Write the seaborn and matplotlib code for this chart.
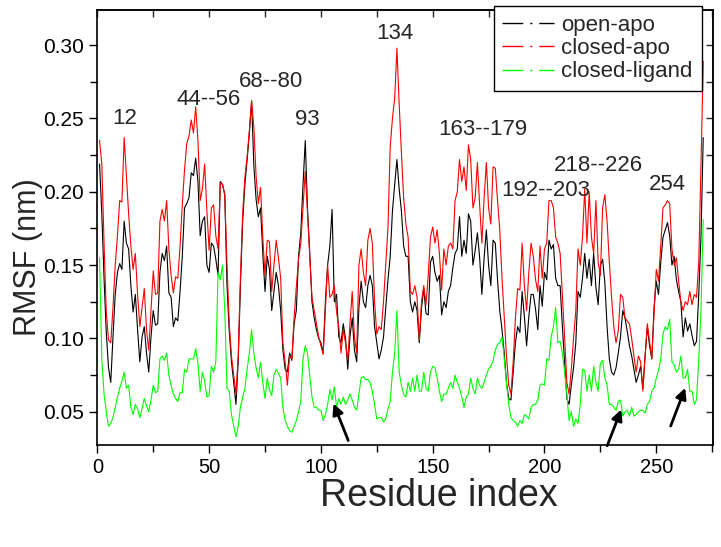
import numpy as np
import pandas as pd
import seaborn as sns
import matplotlib.pyplot as plt
from matplotlib.lines import Line2D
from matplotlib.ticker import MultipleLocator

# RMSF per residue (nm)
residues = list(range(1, 272))

open_apo = [
    0.219, 0.185, 0.141, 0.104, 0.080, 0.070, 0.101, 0.130, 0.145, 0.151,
    0.147, 0.180, 0.165, 0.161, 0.136, 0.118, 0.130, 0.106, 0.084, 0.101,
    0.108, 0.090, 0.077, 0.101, 0.119, 0.109, 0.110, 0.145, 0.158, 0.153,
    0.163, 0.131, 0.128, 0.108, 0.114, 0.112, 0.132, 0.156, 0.189, 0.192,
    0.196, 0.213, 0.211, 0.223, 0.207, 0.170, 0.180, 0.183, 0.150, 0.145,
    0.165, 0.163, 0.154, 0.143, 0.207, 0.205, 0.198, 0.136, 0.105, 0.084,
    0.070, 0.055, 0.084, 0.136, 0.180, 0.205, 0.222, 0.240, 0.262, 0.218,
    0.195, 0.183, 0.189, 0.158, 0.132, 0.156, 0.147, 0.119, 0.132, 0.145,
    0.136, 0.119, 0.092, 0.079, 0.077, 0.090, 0.085, 0.110, 0.119, 0.156,
    0.172, 0.205, 0.235, 0.189, 0.158, 0.125, 0.114, 0.106, 0.100, 0.097,
    0.090, 0.125, 0.150, 0.163, 0.188, 0.125, 0.130, 0.101, 0.097, 0.110,
    0.100, 0.079, 0.101, 0.114, 0.092, 0.084, 0.121, 0.139, 0.125, 0.121,
    0.136, 0.143, 0.136, 0.108, 0.097, 0.086, 0.092, 0.101, 0.121, 0.140,
    0.156, 0.187, 0.205, 0.222, 0.202, 0.187, 0.163, 0.156, 0.156, 0.125,
    0.118, 0.125, 0.119, 0.097, 0.121, 0.134, 0.117, 0.116, 0.152, 0.156,
    0.145, 0.139, 0.143, 0.116, 0.125, 0.121, 0.132, 0.136, 0.148, 0.158,
    0.161, 0.183, 0.156, 0.167, 0.158, 0.185, 0.180, 0.150, 0.160, 0.172,
    0.155, 0.130, 0.155, 0.174, 0.150, 0.136, 0.167, 0.165, 0.140, 0.119,
    0.106, 0.090, 0.070, 0.059, 0.058, 0.077, 0.097, 0.108, 0.104, 0.132,
    0.115, 0.095, 0.115, 0.130, 0.130, 0.120, 0.106, 0.136, 0.122, 0.145,
    0.140, 0.167, 0.161, 0.164, 0.141, 0.136, 0.136, 0.108, 0.084, 0.059,
    0.055, 0.068, 0.080, 0.097, 0.132, 0.128, 0.141, 0.158, 0.141, 0.154,
    0.136, 0.158, 0.135, 0.123, 0.150, 0.154, 0.138, 0.108, 0.086, 0.077,
    0.075, 0.080, 0.090, 0.101, 0.119, 0.114, 0.105, 0.095, 0.088, 0.079,
    0.070, 0.075, 0.081, 0.066, 0.088, 0.108, 0.095, 0.086, 0.121, 0.139,
    0.130, 0.152, 0.169, 0.174, 0.179, 0.170, 0.150, 0.156, 0.140, 0.132,
    0.125, 0.101, 0.114, 0.105, 0.110, 0.102, 0.095, 0.098, 0.130, 0.170,
    0.237,
]

closed_apo = [
    0.235, 0.219, 0.165, 0.118, 0.099, 0.097, 0.121, 0.150, 0.170, 0.194,
    0.193, 0.237, 0.211, 0.185, 0.163, 0.147, 0.158, 0.130, 0.108, 0.121,
    0.134, 0.106, 0.092, 0.119, 0.146, 0.130, 0.131, 0.180, 0.188, 0.180,
    0.194, 0.161, 0.143, 0.131, 0.142, 0.141, 0.163, 0.191, 0.215, 0.233,
    0.238, 0.249, 0.240, 0.258, 0.235, 0.194, 0.202, 0.219, 0.187, 0.160,
    0.189, 0.191, 0.170, 0.161, 0.206, 0.205, 0.198, 0.150, 0.110, 0.088,
    0.075, 0.062, 0.088, 0.141, 0.185, 0.210, 0.224, 0.242, 0.262, 0.244,
    0.211, 0.192, 0.203, 0.169, 0.143, 0.167, 0.166, 0.132, 0.150, 0.167,
    0.155, 0.141, 0.097, 0.084, 0.068, 0.088, 0.086, 0.114, 0.135, 0.154,
    0.165, 0.190, 0.214, 0.185, 0.156, 0.128, 0.119, 0.110, 0.101, 0.095,
    0.089, 0.119, 0.150, 0.128, 0.130, 0.136, 0.118, 0.108, 0.090, 0.106,
    0.097, 0.085, 0.110, 0.132, 0.101, 0.090, 0.150, 0.161, 0.145, 0.136,
    0.167, 0.175, 0.165, 0.125, 0.103, 0.108, 0.106, 0.125, 0.150, 0.176,
    0.231, 0.250, 0.264, 0.298, 0.260, 0.227, 0.196, 0.178, 0.169, 0.132,
    0.130, 0.136, 0.128, 0.099, 0.125, 0.136, 0.123, 0.143, 0.169, 0.176,
    0.165, 0.174, 0.158, 0.133, 0.161, 0.150, 0.163, 0.165, 0.161, 0.194,
    0.200, 0.222, 0.207, 0.217, 0.201, 0.232, 0.222, 0.189, 0.196, 0.220,
    0.191, 0.165, 0.196, 0.220, 0.189, 0.178, 0.217, 0.216, 0.194, 0.174,
    0.141, 0.114, 0.088, 0.068, 0.062, 0.084, 0.114, 0.134, 0.133, 0.165,
    0.136, 0.119, 0.145, 0.165, 0.156, 0.140, 0.132, 0.163, 0.141, 0.161,
    0.165, 0.194, 0.194, 0.189, 0.169, 0.165, 0.158, 0.130, 0.101, 0.070,
    0.062, 0.079, 0.100, 0.119, 0.161, 0.150, 0.169, 0.202, 0.165, 0.200,
    0.169, 0.158, 0.194, 0.152, 0.143, 0.189, 0.198, 0.180, 0.152, 0.128,
    0.108, 0.097, 0.105, 0.130, 0.128, 0.114, 0.112, 0.110, 0.100, 0.088,
    0.077, 0.088, 0.084, 0.064, 0.088, 0.110, 0.098, 0.086, 0.117, 0.147,
    0.139, 0.163, 0.189, 0.191, 0.194, 0.192, 0.161, 0.150, 0.155, 0.139,
    0.125, 0.119, 0.125, 0.123, 0.132, 0.123, 0.130, 0.128, 0.152, 0.218,
    0.289,
]

closed_ligand = [
    0.155, 0.086, 0.062, 0.050, 0.040, 0.042, 0.046, 0.053, 0.060, 0.066,
    0.071, 0.077, 0.066, 0.068, 0.053, 0.048, 0.055, 0.052, 0.046, 0.052,
    0.059, 0.054, 0.050, 0.058, 0.068, 0.063, 0.064, 0.086, 0.088, 0.085,
    0.090, 0.075, 0.068, 0.062, 0.059, 0.057, 0.063, 0.063, 0.079, 0.077,
    0.086, 0.086, 0.086, 0.093, 0.083, 0.064, 0.077, 0.071, 0.060, 0.061,
    0.081, 0.077, 0.084, 0.145, 0.140, 0.150, 0.119, 0.066, 0.064, 0.048,
    0.040, 0.033, 0.040, 0.053, 0.060, 0.066, 0.079, 0.090, 0.106, 0.090,
    0.080, 0.073, 0.084, 0.070, 0.059, 0.073, 0.065, 0.061, 0.075, 0.079,
    0.076, 0.073, 0.053, 0.044, 0.040, 0.037, 0.036, 0.040, 0.044, 0.050,
    0.057, 0.086, 0.095, 0.090, 0.075, 0.060, 0.053, 0.053, 0.051, 0.051,
    0.044, 0.048, 0.055, 0.065, 0.058, 0.067, 0.053, 0.059, 0.055, 0.060,
    0.055, 0.058, 0.062, 0.058, 0.053, 0.051, 0.062, 0.073, 0.074, 0.072,
    0.072, 0.070, 0.064, 0.055, 0.045, 0.046, 0.046, 0.043, 0.045, 0.052,
    0.057, 0.077, 0.090, 0.119, 0.077, 0.068, 0.062, 0.060, 0.070, 0.064,
    0.073, 0.064, 0.075, 0.064, 0.064, 0.077, 0.066, 0.064, 0.077, 0.081,
    0.080, 0.073, 0.064, 0.057, 0.062, 0.062, 0.066, 0.070, 0.066, 0.075,
    0.070, 0.066, 0.060, 0.053, 0.060, 0.062, 0.073, 0.066, 0.062, 0.073,
    0.068, 0.066, 0.070, 0.075, 0.079, 0.081, 0.085, 0.092, 0.096, 0.097,
    0.101, 0.086, 0.070, 0.055, 0.046, 0.044, 0.043, 0.040, 0.044, 0.042,
    0.048, 0.047, 0.045, 0.053, 0.055, 0.055, 0.058, 0.068, 0.069, 0.068,
    0.086, 0.085, 0.101, 0.108, 0.121, 0.097, 0.098, 0.090, 0.077, 0.062,
    0.044, 0.050, 0.040, 0.045, 0.042, 0.055, 0.079, 0.078, 0.064, 0.075,
    0.064, 0.081, 0.070, 0.064, 0.083, 0.085, 0.073, 0.068, 0.055, 0.055,
    0.053, 0.051, 0.057, 0.058, 0.047, 0.050, 0.051, 0.047, 0.053, 0.047,
    0.048, 0.050, 0.051, 0.051, 0.049, 0.055, 0.057, 0.064, 0.066, 0.073,
    0.078, 0.086, 0.103, 0.108, 0.106, 0.113, 0.084, 0.082, 0.077, 0.079,
    0.088, 0.073, 0.073, 0.079, 0.064, 0.064, 0.055, 0.058, 0.086, 0.120,
    0.181,
]

series_names = ['open-apo', 'closed-apo', 'closed-ligand']
series_colors = ['#000000', '#ff0000', '#00ff00']

# peak labels: text, x, y
peak_labels = ['12', '44--56', '68--80', '93', '134', '163--179', '192--203', '218--226', '254']
peak_x = [12.4, 49.9, 77.8, 93.8, 133.2, 172.4, 200.7, 224.3, 255.2]
peak_y = [0.250, 0.263, 0.275, 0.249, 0.308, 0.2426, 0.2007, 0.218, 0.205]

# arrows: head (x, y), tail (x, y)
arrow_head = [(105.2, 0.0573), (234.8, 0.0533), (263.4, 0.068)]
arrow_tail = [(112.7, 0.0286), (227.6, 0.0250), (256.0, 0.0385)]

df = pd.DataFrame({
    'residue': residues * 3,
    'rmsf': open_apo + closed_apo + closed_ligand,
    'system': [n for n in series_names for _ in residues],
})

sns.set_style('ticks')
plt.rcParams['font.family'] = ['Liberation Sans', 'DejaVu Sans']

fig = plt.figure(figsize=(7.21, 5.47), dpi=100)
ax = fig.add_axes([0.135, 0.1865, 0.8543, 0.7952])

sns.lineplot(data=df, x='residue', y='rmsf', hue='system', hue_order=series_names,
             palette=dict(zip(series_names, series_colors)), estimator=None,
             linewidth=0.8, legend=False, ax=ax)

ax.set_xlim(0, 275.5)
ax.set_ylim(0.0273, 0.324)
ax.xaxis.set_major_locator(MultipleLocator(50))
ax.xaxis.set_minor_locator(MultipleLocator(25))
ax.yaxis.set_major_locator(MultipleLocator(0.05))
ax.yaxis.set_minor_locator(MultipleLocator(0.025))
ax.yaxis.set_major_formatter(plt.FormatStrFormatter('%.2f'))
ax.tick_params(which='both', direction='out', width=1.0, colors='k')
ax.tick_params(axis='y', labelsize=15)
ax.tick_params(axis='x', labelsize=14.5)
ax.tick_params(which='major', length=6)
ax.tick_params(which='minor', length=5)
for s in ax.spines.values():
    s.set_color('k')
    s.set_linewidth(1.2)

# mirrored ticks pointing inward on top and right
top = ax.secondary_xaxis('top')
top.xaxis.set_major_locator(MultipleLocator(50))
top.xaxis.set_minor_locator(MultipleLocator(25))
top.tick_params(which='both', direction='in', length=5, width=1.0, labeltop=False)
right = ax.secondary_yaxis('right')
right.yaxis.set_major_locator(MultipleLocator(0.05))
right.yaxis.set_minor_locator(MultipleLocator(0.025))
right.tick_params(which='both', direction='in', length=5, width=1.0, labelright=False)
for a in (top, right):
    for s in a.spines.values():
        s.set_linewidth(1.2)

ax.set_xlabel('Residue index', fontsize=27)
ax.set_ylabel('RMSF (nm)', fontsize=22)
ax.xaxis.set_label_coords(0.555, -0.075)
ax.yaxis.set_label_coords(-0.088, 0.432)

for t, x, y in zip(peak_labels, peak_x, peak_y):
    ax.text(x, y, t, fontsize=16, ha='center', va='center')

for h, t in zip(arrow_head, arrow_tail):
    ax.annotate('', xy=h, xytext=t,
                arrowprops=dict(arrowstyle='-|>', color='k', lw=2, mutation_scale=16))

handles = [Line2D([], [], color=c, lw=1, linestyle=(0, (15, 5, 1.5, 5)))
           for c in series_colors]
leg = ax.legend(handles, series_names, loc='upper right', bbox_to_anchor=(0.981, 1.009),
                borderaxespad=0, fontsize=16, handlelength=2.3, labelspacing=0.1,
                handletextpad=0.35, borderpad=0.4, fancybox=False, framealpha=1)
leg.get_frame().set_edgecolor('k')
leg.get_frame().set_linewidth(1.0)

fig.savefig('out.png', dpi=100)
